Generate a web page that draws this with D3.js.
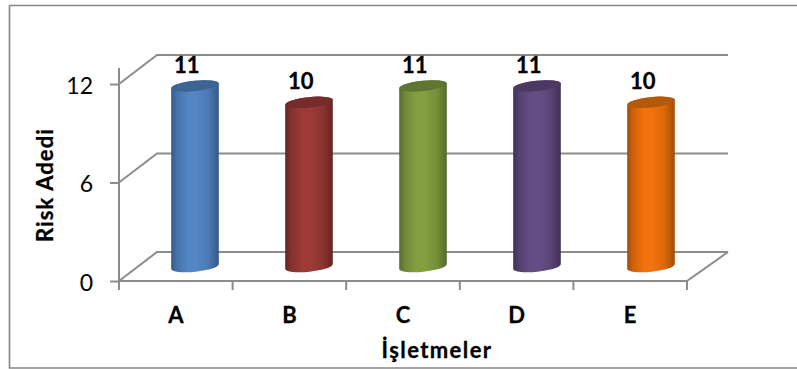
<!DOCTYPE html>
<html>
<head>
<meta charset="utf-8">
<style>
html,body{margin:0;padding:0;background:#fff}
svg{display:block}
text{font-family:Lato,"Open Sans",sans-serif;fill:#000}
.b{stroke:#000;stroke-width:0.3px}
</style>
<script src="https://cdn.jsdelivr.net/npm/d3@7"></script>
</head>
<body>
<svg id="c" width="797" height="369"></svg>
<script>
const categories = ["A","B","C","D","E"];
const riskCounts = [11,10,11,11,10];
const yTicks = [0,6,12];
const yTitle = "Risk Adedi";
const xTitle = "İşletmeler";
const edgeColors = ["#34598a","#662422","#566b2d","#412f56","#a04d06"];
const midColors  = ["#5486c5","#9c3a38","#83a041","#644d84","#f2730c"];
const capColors  = ["#3d6492","#752c2a","#5f7633","#4b3963","#b35a0a"];

const GRID = "#8c8c8c";
const svg = d3.select("#c");
const W = 797, H = 369;

const x = d3.scaleBand().domain(categories).range([119,687]);
const xMid = d3.scaleBand().domain(categories).range([138,708]);
const y = d3.scaleLinear().domain([0,12]).range([281,84]);
const depthX = 38, depthY = -29;
const wallRight = 728;

// frame
svg.append("path")
  .attr("d",`M${W+1},5.5H9.5V368H${W+1}`)
  .attr("fill","none").attr("stroke","#868686").attr("stroke-width",1.6);

// gridlines on back wall and side wall
const grid = svg.append("g").attr("fill","none").attr("stroke",GRID).attr("stroke-width",2);
yTicks.forEach(t=>{
  grid.append("path").attr("d",
    d3.line()([[x.range()[0],y(t)],[x.range()[0]+depthX,y(t)+depthY],[wallRight,y(t)+depthY]]));
});
grid.append("path").attr("d",
  d3.line()([[x.range()[1],y(0)],[wallRight,y(0)+depthY]]));

// axes
const axisY = d3.axisLeft(y).tickValues(yTicks).tickSize(9).tickPadding(17).tickFormat(d3.format("d"));
const gy = svg.append("g").attr("transform","translate(119,0)").call(axisY);
gy.select(".domain").remove();
gy.selectAll("line").attr("stroke",GRID).attr("stroke-width",2);
gy.selectAll("text").attr("font-size",23).attr("y",1).attr("dy","0.36em").style("font-family","Lato");
svg.append("line").attr("x1",119).attr("x2",119).attr("y1",68).attr("y2",290)
  .attr("stroke",GRID).attr("stroke-width",2);

const axisX = d3.axisBottom(x).tickSize(0).tickPadding(29);
const gx = svg.append("g").attr("transform",`translate(0,${y(0)})`).call(axisX);
gx.select(".domain").attr("stroke",GRID).attr("stroke-width",2).attr("d","M119,0H688");
gx.selectAll("text").attr("class","b").attr("font-size",22).attr("font-weight",700).attr("dy","0").attr("y",42).style("font-family","Lato");
const tickEdges = categories.map(c=>x(c)).concat([x.range()[1]]);
svg.append("g").selectAll("line").data(tickEdges).join("line")
  .attr("x1",d=>d).attr("x2",d=>d).attr("y1",y(0)).attr("y2",y(0)+9)
  .attr("stroke",GRID).attr("stroke-width",2);

// cylinders: mid-depth plane
const defs = svg.append("defs");
categories.forEach((c,i)=>{
  const g = defs.append("linearGradient").attr("id","g"+i)
    .attr("x1",0).attr("x2",1).attr("y1",0).attr("y2",0);
  const blend = t => d3.interpolateRgb(edgeColors[i],midColors[i])(t);
  [[0,edgeColors[i]],[0.12,blend(0.55)],[0.36,midColors[i]],[0.52,midColors[i]],[0.78,blend(0.72)],[1,edgeColors[i]]]
    .forEach(([o,col])=>g.append("stop").attr("offset",o).attr("stop-color",col));
});
const rx = 23.8, ry = 5.2, tilt = -6, tiltDy = 2.5;
const midX = d => xMid(d) + xMid.bandwidth()/2;
const midY = v => y(v) + depthY/2;

const bars = svg.append("g").selectAll("g").data(categories).join("g");
bars.append("path")
  .attr("fill",(d,i)=>`url(#g${i})`)
  .attr("d",(d,i)=>{
    const cx = midX(d), t = midY(riskCounts[i]), b = midY(0);
    return `M${cx-rx},${t+tiltDy}`+
      `A${rx},${ry} ${tilt} 0 1 ${cx+rx},${t-tiltDy}`+
      `L${cx+rx},${b-tiltDy}`+
      `A${rx},${ry} ${tilt} 0 1 ${cx-rx},${b+tiltDy}Z`;
  });
bars.append("ellipse")
  .attr("rx",rx).attr("ry",ry)
  .attr("fill",(d,i)=>capColors[i])
  .attr("transform",(d,i)=>`translate(${midX(d)},${midY(riskCounts[i])}) rotate(${tilt})`);

// data labels
svg.append("g").selectAll("text").data(categories).join("text")
  .attr("class","b")
  .attr("x",d=>midX(d)-8.3)
  .attr("y",(d,i)=>midY(riskCounts[i])-13)
  .attr("text-anchor","middle").attr("font-size",22).attr("font-weight",700)
  .text((d,i)=>riskCounts[i]);

// titles
svg.append("text").attr("class","b").attr("transform","translate(53,185) rotate(-90)")
  .attr("text-anchor","middle").attr("font-size",22).attr("font-weight",700)
  .attr("letter-spacing",1.1).text(yTitle);
svg.append("text").attr("class","b").attr("x",437).attr("y",358)
  .attr("text-anchor","middle").attr("font-size",22).attr("font-weight",700)
  .attr("letter-spacing",1.4).text(xTitle);
</script>
</body>
</html>
